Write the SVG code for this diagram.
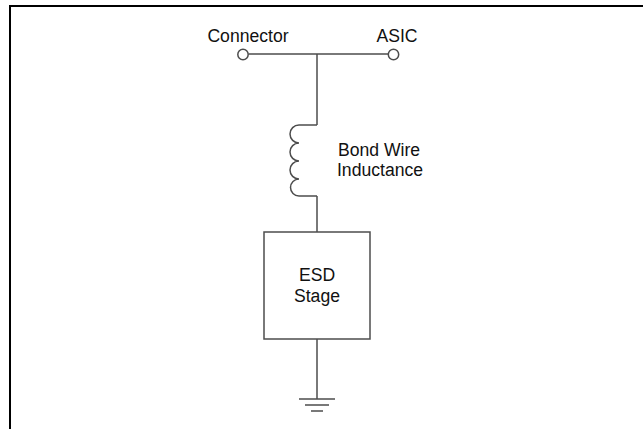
<svg xmlns="http://www.w3.org/2000/svg" width="643" height="429" viewBox="0 0 643 429">
<style>
.w{fill:none;stroke:#4d4d4d;stroke-width:1.5}
text{font-family:"Liberation Sans",Arial,sans-serif;font-size:17.6px;fill:#111;text-anchor:middle}
</style>
<rect width="643" height="429" fill="#fff"/>
<path d="M10 429V6H643" fill="none" stroke="#000" stroke-width="2"/>
<g id="connectors">
<path class="w" d="M248.500 54H388.500M317 54V125M317 196V232M317 339V399"/>
</g>
<g id="connector-terminal"><circle class="w" cx="243" cy="54.500" r="5.200"/><text x="248" y="42">Connector</text></g>
<g id="asic-terminal"><circle class="w" cx="393.500" cy="54.500" r="5.200"/><text x="397" y="42">ASIC</text></g>
<g id="inductor">
<path class="w" d="M317 125H299A9 9 0 0 0 299 143A9 9 0 0 0 299 161A9 9 0 0 0 299 179A8.500 8.500 0 0 0 299 196H317"/>
<text x="379" y="156">Bond Wire</text><text x="380" y="176">Inductance</text>
</g>
<g id="esd-stage"><rect class="w" x="264" y="232" width="106" height="107"/><text x="317" y="281">ESD</text><text x="317" y="302">Stage</text></g>
<g id="ground"><path class="w" d="M299 399H335M305 405H329M311 411H323"/></g>
</svg>
